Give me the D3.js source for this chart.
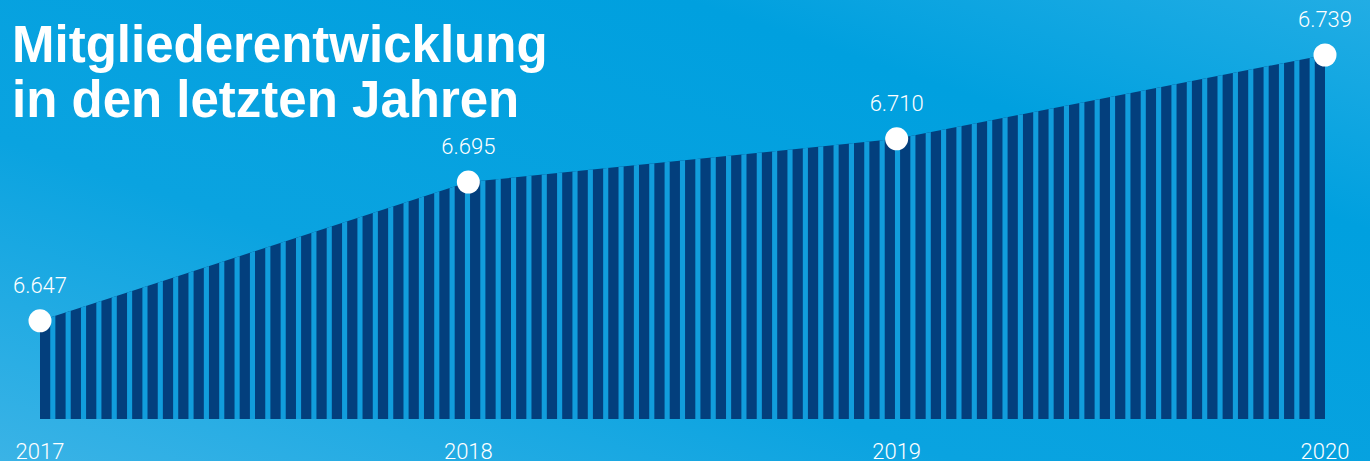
<!DOCTYPE html>
<html>
  <head>
    <meta charset="utf-8">
    <script src="https://d3js.org/d3.v7.min.js"></script>
    <style>
      body {
        margin: 0px;
        overflow: hidden;
      }
      .title {
        fill: white;
        font-family: "Liberation Sans", Arial, sans-serif;
        font-weight: bold;
        font-size: 51px;
      }
      .value-label, .year-label {
        fill: white;
        font-family: Roboto, sans-serif;
        font-weight: 300;
        font-size: 22px;
      }
    </style>
  </head>
  <body>
    <svg width="1370" height="461"></svg>
    <script>
      var years = ["2017", "2018", "2019", "2020"];
      var members = [6647, 6695, 6710, 6739];
      var valueLabels = ["6.647", "6.695", "6.710", "6.739"];
      var titleLines = ["Mitgliederentwicklung", "in den letzten Jahren"];

      var width = 1370;
      var height = 461;
      var plotLeft = 40, plotRight = 1325, plotTop = 55, plotBottom = 419;

      var data = years.map(function (y, i) {
        return { year: y, value: members[i], label: valueLabels[i] };
      });

      var svg = d3.select("svg")
        .attr("width", width)
        .attr("height", height);

      var defs = svg.append("defs");

      // background gradient
      var bg = defs.append("linearGradient")
        .attr("id", "bg")
        .attr("x1", "0%").attr("y1", "100%")
        .attr("x2", "100%").attr("y2", "0%");
      bg.append("stop").attr("offset", "0%").attr("stop-color", "#3ab3e6");
      bg.append("stop").attr("offset", "35%").attr("stop-color", "#0aa3e0");
      bg.append("stop").attr("offset", "75%").attr("stop-color", "#00a0df");
      bg.append("stop").attr("offset", "100%").attr("stop-color", "#22ade4");

      svg.append("rect")
        .attr("width", width)
        .attr("height", height)
        .attr("fill", "url(#bg)");

      var xScale = d3.scalePoint().domain(years).range([plotLeft, plotRight]);
      var yScale = d3.scaleLinear().domain([6613, 6739]).range([plotBottom, plotTop]);

      var area = d3.area()
        .x(function (d) { return xScale(d.year); })
        .y0(plotBottom)
        .y1(function (d) { return yScale(d.value); });

      defs.append("clipPath")
        .attr("id", "areaClip")
        .append("path")
        .attr("d", area(data));

      svg.append("path")
        .attr("d", area(data))
        .attr("fill", "#033f7d");

      // light stripes across the area
      var barCount = 84;
      var gap = (plotRight - plotLeft) / (barCount * 3 - 1);
      var barW = gap * 2;
      var step = barW + gap;

      svg.append("g")
        .attr("clip-path", "url(#areaClip)")
        .selectAll("rect")
        .data(d3.range(barCount - 1))
        .enter()
        .append("rect")
        .attr("x", function (i) { return plotLeft + barW + i * step; })
        .attr("y", 0)
        .attr("width", gap)
        .attr("height", plotBottom)
        .attr("fill", "#119ddc");

      // title
      svg.append("g")
        .selectAll("text")
        .data(titleLines)
        .enter()
        .append("text")
        .attr("class", "title")
        .attr("x", 12)
        .attr("y", function (d, i) { return 62 + i * 55; })
        .text(function (d) { return d; });

      // points
      svg.append("g")
        .selectAll("circle")
        .data(data)
        .enter()
        .append("circle")
        .attr("cx", function (d) { return xScale(d.year); })
        .attr("cy", function (d) { return yScale(d.value); })
        .attr("r", 11.5)
        .attr("fill", "white");

      svg.append("g")
        .selectAll("text")
        .data(data)
        .enter()
        .append("text")
        .attr("class", "value-label")
        .attr("text-anchor", "middle")
        .attr("x", function (d) { return xScale(d.year); })
        .attr("y", function (d) { return yScale(d.value) - 28; })
        .text(function (d) { return d.label; });

      // year labels
      svg.append("g")
        .selectAll("text")
        .data(years)
        .enter()
        .append("text")
        .attr("class", "year-label")
        .attr("text-anchor", "middle")
        .attr("x", function (d) { return xScale(d); })
        .attr("y", 459)
        .text(function (d) { return d; });
    </script>
  </body>
</html>
